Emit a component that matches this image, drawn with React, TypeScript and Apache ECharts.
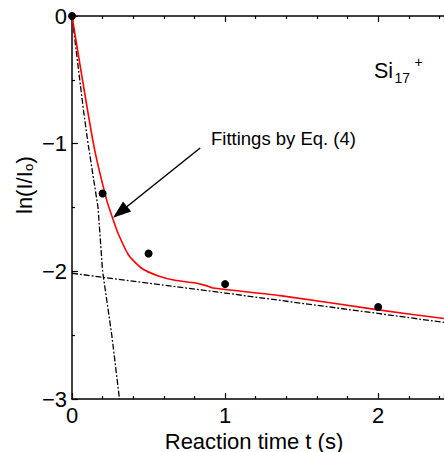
import React, { useEffect, useRef } from 'react';
import * as echarts from 'echarts';

// Measured points (reaction time t in s, ln(I/I0))
const measuredT = [0, 0.2, 0.5, 1, 2];
const measuredLnI = [0, -1.39, -1.86, -2.1, -2.28];

// Fitting curve by Eq. (4)
const fitT = [0, 0.14, 0.226, 0.27, 0.3, 0.368, 0.455, 0.564, 0.673, 0.8, 0.87, 0.92, 1.36, 1.99, 2.43];
const fitLnI = [0, -1.0, -1.44, -1.6, -1.7, -1.87, -1.976, -2.036, -2.07, -2.09, -2.11, -2.13, -2.19, -2.3, -2.37];

// Fast component (dash-dot)
const fastT = [0, 0.075, 0.105, 0.17, 0.2, 0.26, 0.31];
const fastLnI = [0, -0.74, -1.0, -1.5, -2.0, -2.5, -3.0];

// Slow component (dash-dot)
const slowT = [0, 1, 2, 2.43];
const slowLnI = [-2.015, -2.17, -2.33, -2.4];

// Arrow annotation (data coords)
const arrowFrom = [0.837, -1.034];
const arrowTo = [0.268, -1.58];

const xMin = 0;
const xMax = 2.43;
const yMin = -3;
const yMax = 0;

const FONT = 'Liberation Sans, Arial, Helvetica, sans-serif';

const zip = (a: number[], b: number[]) => a.map((v, i) => [v, b[i]]);

export default function App() {
  const ref = useRef<HTMLDivElement>(null);

  useEffect(() => {
    if (!ref.current) return;
    const chart = echarts.init(ref.current, null, { renderer: 'svg' });
    const dashDot = [6, 2, 1.8, 2];
    const axisCommon = {
      min: xMin,
      max: xMax,
      interval: 1,
      axisLine: { show: true, onZero: false, lineStyle: { color: '#000', width: 1.5 } },
      axisTick: { show: true, inside: true, length: 6, lineStyle: { color: '#000', width: 1.2 } },
      minorTick: { show: true, splitNumber: 5, length: 3, lineStyle: { color: '#000', width: 1.2 } },
      splitLine: { show: false },
      minorSplitLine: { show: false },
    };
    chart.setOption({
      animation: false,
      backgroundColor: '#fff',
      grid: { left: 72, top: 16, right: 0, bottom: 53, outerBoundsMode: 'none', containLabel: false },
      xAxis: [
        {
          type: 'value',
          position: 'bottom',
          ...axisCommon,
          axisLabel: {
            show: true,
            color: '#000',
            fontSize: 22,
            fontFamily: FONT,
            margin: 5,
            showMaxLabel: false,
            formatter: (v: number) => String(v),
          },
        },
        {
          type: 'value',
          position: 'top',
          ...axisCommon,
          axisLabel: { show: false },
        },
      ],
      yAxis: [
        {
          type: 'value',
          min: yMin,
          max: yMax,
          interval: 1,
          axisLine: { show: true, onZero: false, lineStyle: { color: '#000', width: 1.5 } },
          axisTick: { show: true, inside: true, length: 6, lineStyle: { color: '#000', width: 1.2 } },
          minorTick: { show: true, splitNumber: 2, length: 3, lineStyle: { color: '#000', width: 1.2 } },
          splitLine: { show: false },
          axisLabel: {
            color: '#000',
            fontSize: 22,
            fontFamily: FONT,
            margin: 5,
            formatter: (v: number) => String(v).replace('-', '\u2212'),
          },
        },
      ],
      series: [
        {
          type: 'line',
          data: zip(fastT, fastLnI),
          showSymbol: false,
          symbol: 'none',
          lineStyle: { color: '#000', width: 1.3, type: dashDot },
          z: 2,
        },
        {
          type: 'line',
          data: zip(slowT, slowLnI),
          showSymbol: false,
          symbol: 'none',
          lineStyle: { color: '#000', width: 1.3, type: dashDot },
          z: 2,
        },
        {
          type: 'line',
          data: zip(fitT, fitLnI),
          showSymbol: false,
          symbol: 'none',
          smooth: 0.2,
          lineStyle: { color: '#ff0000', width: 1.6 },
          z: 3,
        },
        {
          type: 'scatter',
          data: zip(measuredT, measuredLnI),
          symbol: 'circle',
          symbolSize: 8,
          itemStyle: { color: '#000', opacity: 1 },
          clip: false,
          z: 4,
        },
      ],
    });

    const p0 = chart.convertToPixel({ seriesIndex: 0 }, arrowFrom) as number[];
    const p1 = chart.convertToPixel({ seriesIndex: 0 }, arrowTo) as number[];
    const dx = p1[0] - p0[0];
    const dy = p1[1] - p0[1];
    const len = Math.sqrt(dx * dx + dy * dy);
    const ux = dx / len;
    const uy = dy / len;
    const headLen = 18;
    const headHalf = 6.5;
    const bx = p1[0] - ux * headLen;
    const by = p1[1] - uy * headLen;
    const nx = -uy;
    const ny = ux;

    chart.setOption({
      graphic: [
        {
          type: 'line',
          shape: { x1: p0[0], y1: p0[1], x2: bx + ux * 2, y2: by + uy * 2 },
          style: { stroke: '#000', lineWidth: 1.5 },
          z: 10,
        },
        {
          type: 'polygon',
          shape: {
            points: [
              [p1[0], p1[1]],
              [bx + nx * headHalf, by + ny * headHalf],
              [bx - nx * headHalf, by - ny * headHalf],
            ],
          },
          style: { fill: '#000' },
          z: 10,
        },
        {
          type: 'text',
          x: 211,
          y: 138.5,
          style: { text: 'Fittings by Eq. (4)', fontSize: 18.5, fontFamily: FONT, fill: '#000', align: 'left', verticalAlign: 'middle' },
          z: 10,
        },
        {
          type: 'text',
          x: 374,
          y: 70.8,
          style: { text: 'Si', fontSize: 21.5, fontFamily: FONT, fill: '#000', align: 'left', verticalAlign: 'middle' },
          z: 10,
        },
        {
          type: 'text',
          x: 394.5,
          y: 77.7,
          style: { text: '17', fontSize: 14, fontFamily: FONT, fill: '#000', align: 'left', verticalAlign: 'middle' },
          z: 10,
        },
        {
          type: 'text',
          x: 414.5,
          y: 62,
          style: { text: '+', fontSize: 14, fontFamily: FONT, fill: '#000', align: 'left', verticalAlign: 'middle' },
          z: 10,
        },
        {
          type: 'text',
          x: 254,
          y: 441,
          style: { text: 'Reaction time t (s)', fontSize: 22, fontFamily: FONT, fill: '#000', align: 'center', verticalAlign: 'middle' },
          z: 10,
        },
        {
          type: 'group',
          x: 24,
          y: 214,
          rotation: Math.PI / 2,
          z: 10,
          children: [
            {
              type: 'text',
              x: 0,
              y: 0,
              style: { text: 'ln(I/I', fontSize: 22, fontFamily: FONT, fill: '#000', align: 'left', verticalAlign: 'middle' },
            },
            {
              type: 'text',
              x: 43,
              y: 4,
              style: { text: 'o', fontSize: 13, fontFamily: FONT, fill: '#000', align: 'left', verticalAlign: 'middle' },
            },
            {
              type: 'text',
              x: 50.5,
              y: 0,
              style: { text: ')', fontSize: 22, fontFamily: FONT, fill: '#000', align: 'left', verticalAlign: 'middle' },
            },
          ],
        },
      ],
    });

    return () => chart.dispose();
  }, []);

  return <div ref={ref} style={{ position: 'fixed', left: 0, top: 0, width: 444, height: 452 }} />;
}
